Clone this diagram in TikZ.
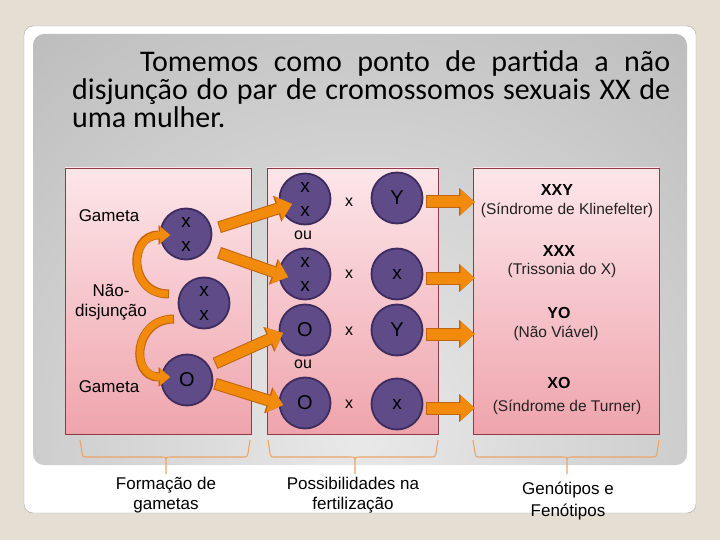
\documentclass[tikz,border=0pt]{standalone}
\usepackage{fontspec}
\setmainfont{Liberation Sans}
\newfontfamily\titlefont{Carlito}
\usetikzlibrary{calc, arrows.meta}

\definecolor{paper}{HTML}{E4DED3}
\definecolor{panelin}{HTML}{E9E9E9}
\definecolor{panelout}{HTML}{A3A3A3}
\definecolor{boxtop}{HTML}{FCE6EA}
\definecolor{boxbot}{HTML}{EFA4AC}
\definecolor{boxline}{HTML}{8C3B47}
\definecolor{circfill}{HTML}{5F4B88}
\definecolor{circline}{HTML}{3E2C5E}
\definecolor{arrfill}{HTML}{F28A0C}
\definecolor{arrline}{HTML}{C0640E}
\definecolor{bracecol}{HTML}{EBA566}
\definecolor{softblack}{HTML}{222222}

\begin{document}
\begin{tikzpicture}[x=1pt, y=-1pt,
        cellbox/.style={draw=boxline, line width=0.8pt, top color=boxtop, bottom color=boxbot, minimum height=266pt, inner sep=0pt},
        chrom/.style={circle, draw=circline, line width=1.8pt, fill=circfill, minimum size=51pt, inner sep=0pt, align=center, font=\fontsize{19}{24}\selectfont},
        tagtext/.style={align=center, font=\fontsize{17}{20}\selectfont},
        mult/.style={font=\fontsize{16}{18}\selectfont},
        geno/.style={font=\bfseries\fontsize{16}{18}\selectfont},
        pheno/.style={text=softblack, font=\fontsize{15.5}{18}\selectfont},
        fatbar/.style={draw=arrfill, line width=10pt, -{Triangle[length=14pt, width=24pt, line width=0.01pt]},
            preaction={draw=arrline, line width=12pt, shorten <=-1pt, -{Triangle[length=15.5pt, width=27pt, line width=0.01pt]}}},
        curvearrow/.style={draw=arrfill, line width=7pt, -{Triangle[length=10pt, width=17pt, line width=0.01pt]},
            preaction={draw=arrline, line width=9pt, shorten <=-1pt, -{Triangle[length=11.5pt, width=19.5pt, line width=0.01pt]}}},
        outarrow/.style={draw=arrfill, line width=11pt, -{Triangle[length=14pt, width=25pt, line width=0.01pt]},
            preaction={draw=arrline, line width=13pt, shorten <=-1pt, -{Triangle[length=15.5pt, width=28pt, line width=0.01pt]}}},
        curly/.style={draw=bracecol, line width=1.1pt}
    ]
    \useasboundingbox (0,0) rectangle (720,540);
    \fill[paper] (0,0) rectangle (720,540);
    \draw[fill=white, draw=gray!70, rounded corners=9pt] (24,26) rectangle (696,513);
    \begin{scope}
        \clip[rounded corners=11pt] (33,34) rectangle (687,465);
        \shade[inner color=panelin, outer color=panelout] (360,430) circle (820);
    \end{scope}

    % title
    \node[anchor=base west, inner sep=0pt, text width=598pt, align=justify,
        font=\titlefont\fontsize{30}{28}\selectfont] (title) at (72,72)
        {\hspace*{68pt}Tomemos como ponto de partida a não\linebreak disjunção do par de cromossomos sexuais XX de\linebreak uma mulher.};

    % boxes
    \node[cellbox, minimum width=186pt] (gam) at (158,301) {};
    \node[cellbox, minimum width=171pt] (fec) at (352.5,301) {};
    \node[cellbox, minimum width=186pt] (res) at (566,301) {};

    % gametes
    \node[chrom] (g1) at (186,234) {x\\x};
    \node[chrom] (g2) at (204,303) {x\\x};
    \node[chrom, font=\fontsize{20}{24}\selectfont] (g3) at (187,380) {O};
    \node[tagtext] (lg1) at (109,216) {Gameta};
    \node[tagtext] (lnd) at (111,302) {Não-\\disjunção};
    \node[tagtext] (lg2) at (109,387) {Gameta};

    % fertilization
    \node[chrom] (f1) at (305,199) {x\\x};
    \node[chrom] (f2) at (305,274) {x\\x};
    \node[chrom, font=\fontsize{20}{24}\selectfont] (f3) at (305,330) {O};
    \node[chrom, font=\fontsize{20}{24}\selectfont] (f4) at (305,403) {O};
    \node[chrom, font=\fontsize{20}{24}\selectfont] (m1) at (397,198) {Y};
    \node[chrom] (m2) at (397,274) {x};
    \node[chrom, font=\fontsize{20}{24}\selectfont] (m3) at (397,330) {Y};
    \node[chrom] (m4) at (397,404) {x};
    \node[mult] (t1) at (349,202) {x};
    \node[mult] (t2) at (349,274) {x};
    \node[mult] (t3) at (349,331) {x};
    \node[mult] (t4) at (349,404) {x};
    \node[mult] (ou1) at (303,235) {ou};
    \node[mult] (ou2) at (303,364) {ou};

    % arrows
    \draw[curvearrow] ($(g2)+(-36,-9)$) .. controls +(-40,0) and +(-42,0) .. ($(g1)+(-16,1)$);
    \draw[curvearrow] ($(g2)+(-31,16)$) .. controls +(-40,0) and +(-40,0) .. ($(g3)+(-17,-3)$);
    \draw[fatbar] ($(g1)+(34,-7)$) -- ($(f1)+(-13,5)$);
    \draw[fatbar] ($(g1)+(34,19)$) -- ($(f2)+(-17,3)$);
    \draw[fatbar] ($(g3)+(29,-17)$) -- ($(f3)+(-22,3)$);
    \draw[fatbar] ($(g3)+(29,4)$) -- ($(f4)+(-22,2)$);
    \foreach \k in {1,...,4}
        \draw[outarrow] ($(m\k.east)+(4,4)$) -- ($(m\k -| res.west)+(2,4)$);

    % results
    \node[geno] (r1) at (557,190) {XXY};
    \node[pheno] (d1) at (567,210) {(Síndrome de Klinefelter)};
    \node[geno] (r2) at (559,251) {XXX};
    \node[pheno] (d2) at (562,270) {(Trissonia do X)};
    \node[geno] (r3) at (559,313) {YO};
    \node[pheno] (d3) at (556,333) {(Não Viável)};
    \node[geno] (r4) at (559,383) {XO};
    \node[pheno] (d4) at (567,407) {(Síndrome de Turner)};

    % braces
    \foreach \a/\b/\c in {80/250/166, 268/438/355, 473/659/567}
        \draw[curly] (\a,440) -- (\a+2,453) .. controls (\a+3,457) .. (\a+7,457) -- (\c-5,457)
            .. controls (\c,457) .. (\c,463) -- (\c,474)
            (\c,463) .. controls (\c,457) .. (\c+5,457) -- (\b-7,457)
            .. controls (\b-3,457) .. (\b-2,453) -- (\b,440);
    \node[tagtext] (cap1) at (166,495) {Formação de\\gametas};
    \node[tagtext] (cap2) at (353,495) {Possibilidades na\\fertilização};
    \node[tagtext, font=\fontsize{17}{22}\selectfont] (cap3) at (568,501) {Genótipos e\\Fenótipos};
\end{tikzpicture}
\end{document}
